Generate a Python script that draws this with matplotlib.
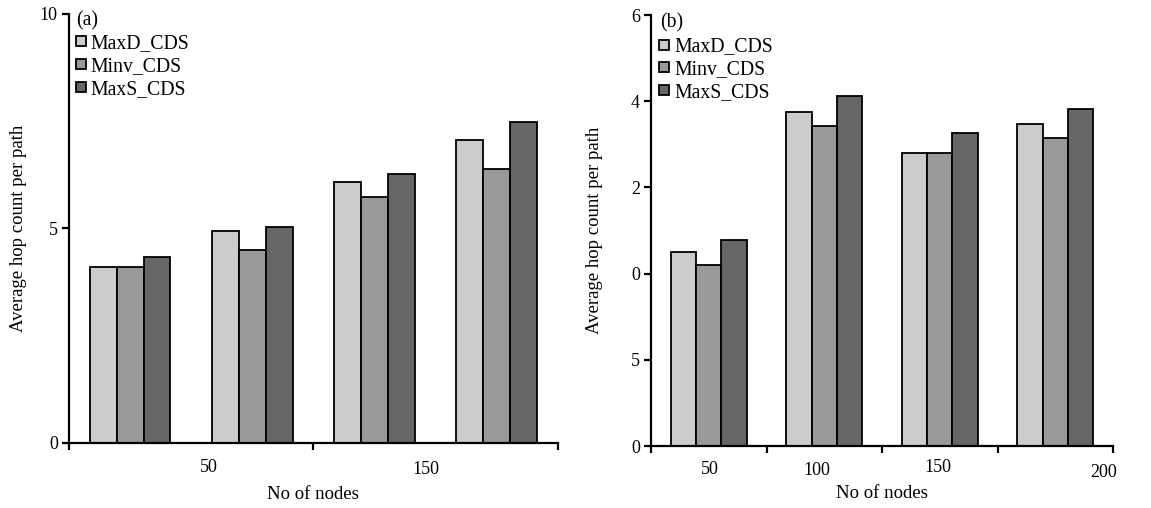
import matplotlib.pyplot as plt
from matplotlib.lines import Line2D
from matplotlib import transforms
import numpy as np

plt.rcParams['font.family'] = ['Liberation Serif', 'DejaVu Serif']

# Data
series = ['MaxD_CDS', 'Minv_CDS', 'MaxS_CDS']
colors = ['#cccccc', '#999999', '#666666']

# panel (a): 4 groups of bars
vals_a = {
    'MaxD_CDS': [4.10, 4.94, 6.08, 7.06],
    'Minv_CDS': [4.11, 4.50, 5.73, 6.39],
    'MaxS_CDS': [4.34, 5.03, 6.27, 7.48],
}
yticks_a = [0, 5, 10]
yticklabels_a = ['0', '5', '10']
xlabels_a = ['50', '150']

# panel (b): plotted on the axis' own tick scale
vals_b = {
    'MaxD_CDS': [2.25, 3.87, 3.40, 3.74],
    'Minv_CDS': [2.10, 3.71, 3.40, 3.57],
    'MaxS_CDS': [2.39, 4.06, 3.63, 3.91],
}
yticks_b = [0, 1, 2, 3, 4, 5]
yticklabels_b = ['0', '5', '0', '2', '4', '6']
xlabels_b = ['50', '100', '150', '200']

# layout of the category labels (x in data units, y in axes fraction)
xlabpos_a = [(1.145, -0.057), (2.92, -0.062)]
xlabpos_b = [(0.51, -0.054), (1.44, -0.056), (2.48, -0.049), (3.92, -0.061)]

FS_TICK = 13
FS_LAB = 13.5
FS_LEG = 14.2
bar_w = 0.22

fig = plt.figure(figsize=(11.51, 5.08), dpi=100)
ax_a = fig.add_axes([0.0599, 0.1280, 0.4248, 0.8445])
ax_b = fig.add_axes([0.5656, 0.1220, 0.4014, 0.8484])


def draw_panel(ax, vals, yticks, yticklabels, ylim, xlabels, xlabpos, xticks, tag,
               ylab_x, xlab_y, leg_anchor, tag_pos):
    ncat = len(vals[series[0]])
    x = np.arange(ncat) + 0.5
    for i, s in enumerate(series):
        ax.bar(x + (i - 1) * bar_w, vals[s], width=bar_w, color=colors[i],
               edgecolor='black', linewidth=1.3, zorder=2)
    ax.set_xlim(0, ncat)
    ax.set_ylim(*ylim)
    ax.set_yticks(yticks)
    ax.set_yticklabels(yticklabels, fontsize=FS_TICK)
    ax.set_xticks(xticks)
    ax.set_xticklabels([])
    for sp in ['top', 'right']:
        ax.spines[sp].set_visible(False)
    for sp in ['left', 'bottom']:
        ax.spines[sp].set_linewidth(1.6)
    ax.tick_params(axis='both', direction='out', length=5, width=1.6, pad=3)
    trans = transforms.blended_transform_factory(ax.transData, ax.transAxes)
    for lab, (px, py) in zip(xlabels, xlabpos):
        ax.text(px, py, lab, transform=trans, ha='center', va='center', fontsize=FS_TICK)
    ax.set_ylabel('Average hop count per path', fontsize=FS_LAB)
    ax.yaxis.set_label_coords(ylab_x, 0.5)
    ax.set_xlabel('No of nodes', fontsize=FS_LAB)
    ax.xaxis.set_label_coords(0.5, xlab_y)
    ax.text(tag_pos[0], tag_pos[1], tag, transform=ax.transAxes, fontsize=FS_LEG,
            ha='left', va='center')
    handles = [Line2D([], [], marker='s', linestyle='none', markersize=7,
                      markerfacecolor=c, markeredgecolor='black', markeredgewidth=1.3)
               for c in colors]
    ax.legend(handles, series, loc='upper left', bbox_to_anchor=leg_anchor,
              frameon=False, fontsize=FS_LEG, handlelength=0.6, handletextpad=0.2,
              labelspacing=0.2, borderpad=0, borderaxespad=0)


draw_panel(ax_a, vals_a, yticks_a, yticklabels_a, (0, 10), xlabels_a, xlabpos_a,
           [0, 2, 4], '(a)', -0.085, -0.100, (0.012, 0.953), (0.014, 0.985))
draw_panel(ax_b, vals_b, yticks_b, yticklabels_b, (0, 5), xlabels_b, xlabpos_b,
           [0, 1, 2, 3, 4], '(b)', -0.104, -0.090, (0.016, 0.948), (0.02, 0.982))

fig.savefig('out.png', dpi=100)
